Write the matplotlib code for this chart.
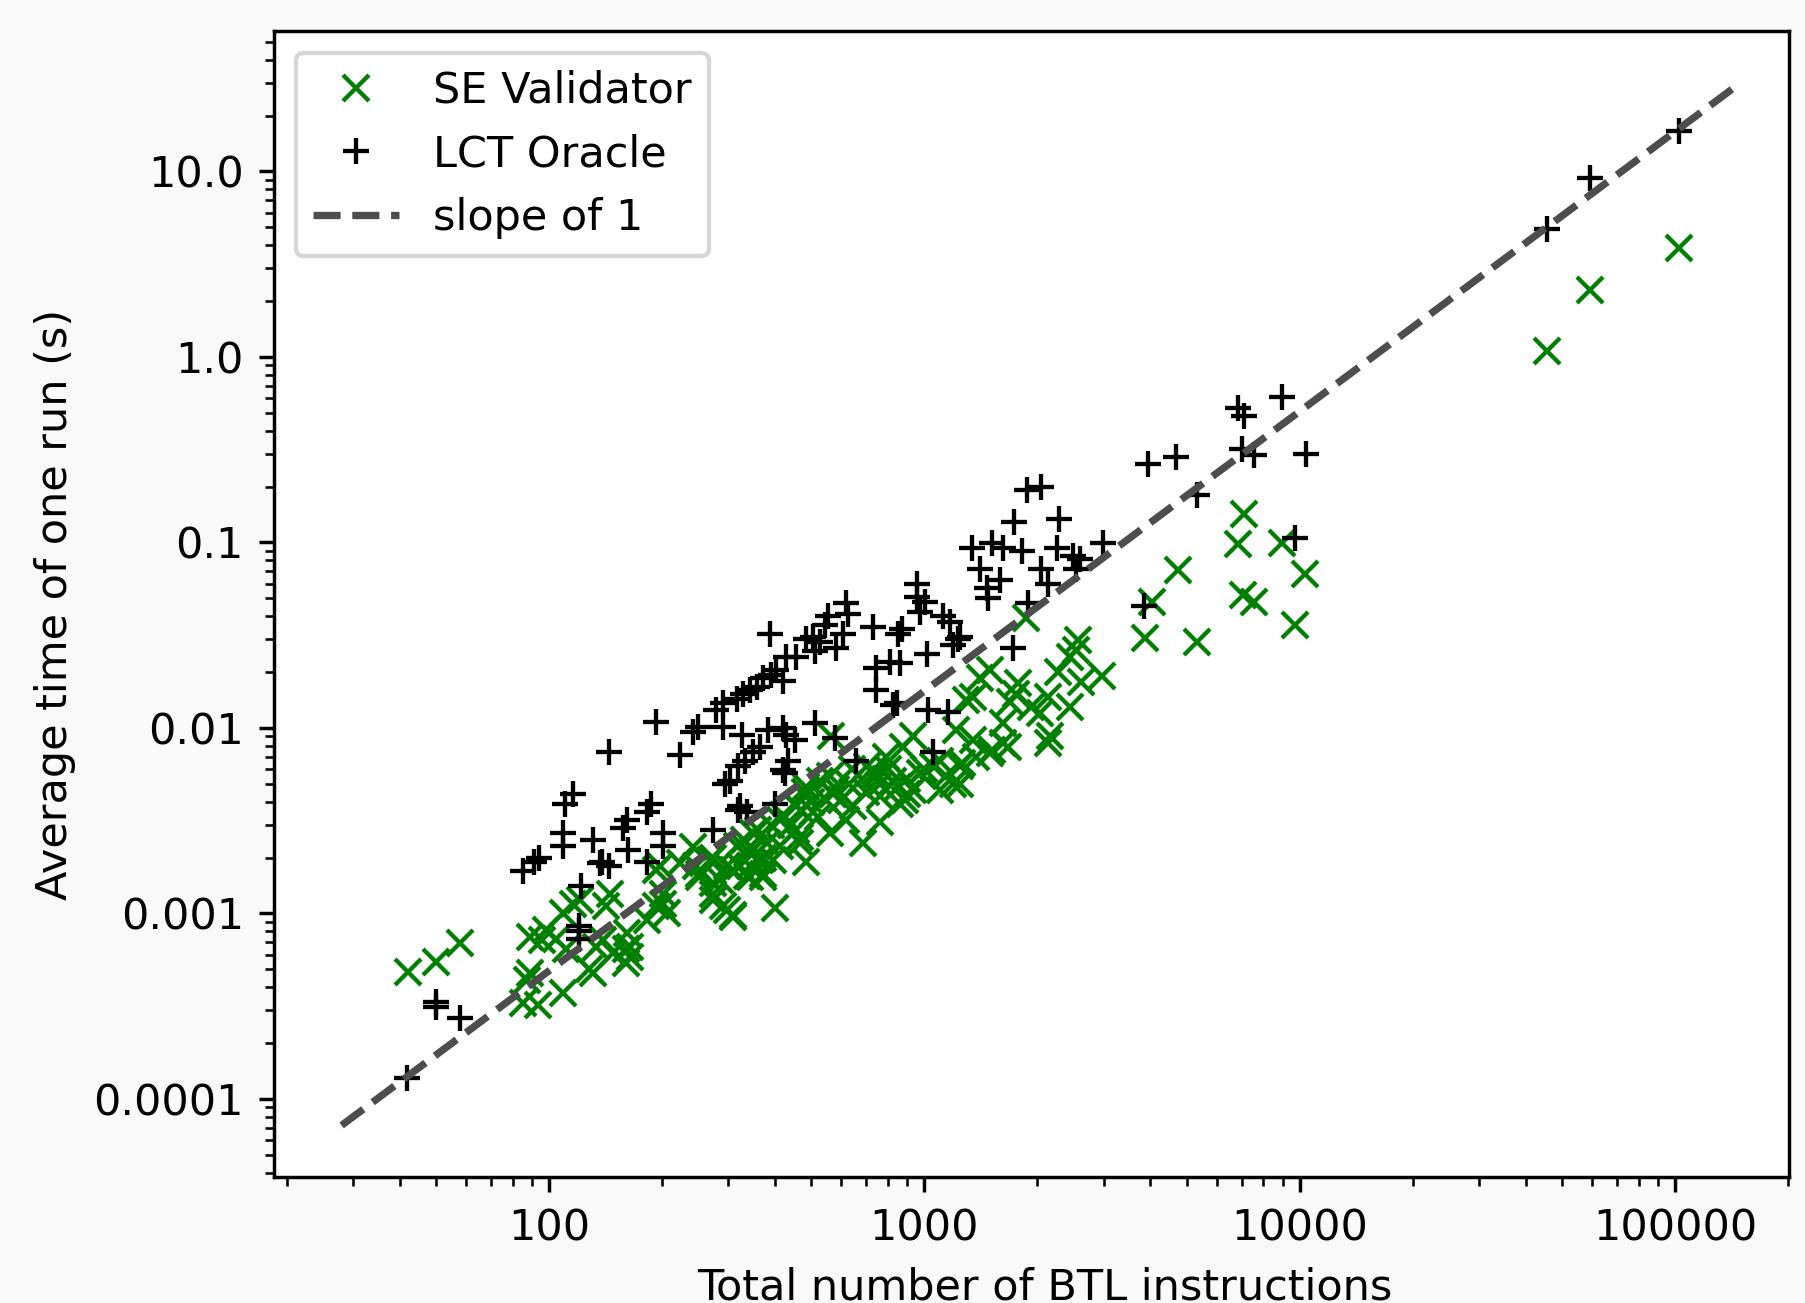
import matplotlib.pyplot as plt
import matplotlib.ticker as ticker

# SE Validator timings
se_x = [102500, 59400, 45700,
        7110, 6825, 8990, 10300, 7060, 7550, 9700, 5330,
        4745, 4030, 3864, 1862, 2566, 2540, 2965, 2440, 2270, 2620, 1493, 1405,
        1777, 1753, 1689, 1928, 2030, 2136, 2440, 1294, 1622, 1671, 1510, 2158, 1260,
        1493, 1622, 2136, 1242, 1242,
        565, 1349, 1217, 933, 878, 792, 701, 745, 825, 896, 972, 1055, 1145, 1193,
        1349, 1376, 761, 860, 933, 505, 456, 412, 372, 560, 620, 646, 526, 485, 571,
        456, 412, 350, 316, 274, 247, 297, 336, 485, 686, 761, 885, 1099,
        399, 297, 309, 274, 251, 285, 309, 343, 372, 242, 223, 197, 201, 193, 206,
        182, 161, 164, 164, 128, 145, 142, 121, 109, 98, 89, 89, 139, 148, 268, 465,
        274, 309, 291, 465, 251, 274, 336, 364, 372, 394, 343, 322,
        42.1, 50.1, 57.8, 87.1, 85.2, 93.5, 109, 95.5, 104.6, 115.8, 111, 131,
        160.6, 160.6, 133.6, 193, 201,
        330, 360, 390, 420, 470, 500, 540, 580, 630, 680, 740, 800, 350, 380,
        440, 520, 600, 700, 760, 850, 900, 1000, 1100, 640, 560, 480]
se_y = [3.86, 2.28, 1.08,
        0.142, 0.0975, 0.0995, 0.0675, 0.052, 0.048, 0.036, 0.029,
        0.071, 0.048, 0.0304, 0.039, 0.0297, 0.0263, 0.019, 0.0242, 0.020, 0.0177, 0.0205, 0.0185,
        0.0174, 0.0153, 0.0138, 0.013, 0.012, 0.0147, 0.013, 0.0141, 0.0106, 0.0079, 0.0076, 0.0090, 0.0065,
        0.0073, 0.0083, 0.0083, 0.0062, 0.0050,
        0.0090, 0.0147, 0.0097, 0.0090, 0.0079, 0.0070, 0.0062, 0.0055, 0.0052, 0.0044, 0.0057, 0.0062, 0.0055, 0.0050,
        0.0086, 0.0070, 0.0043, 0.0039, 0.0046, 0.0035, 0.0028, 0.0023, 0.0020, 0.0027, 0.0032, 0.0038, 0.0052, 0.0048, 0.0044,
        0.0038, 0.0032, 0.0027, 0.0023, 0.0020, 0.0018, 0.0018, 0.0016, 0.0019, 0.0024, 0.0031, 0.0041, 0.0046,
        0.00107, 0.00104, 0.00096, 0.00128, 0.00158, 0.00151, 0.00171, 0.00179, 0.00158, 0.00229, 0.00186, 0.00179, 0.00128, 0.00109, 0.0010,
        0.00092, 0.00078, 0.00066, 0.00058, 0.00050, 0.00128, 0.00109, 0.00118, 0.0010, 0.00081, 0.00075, 0.00048, 0.00072, 0.00061, 0.00194, 0.00259,
        0.00118, 0.00098, 0.00109, 0.0024, 0.00164, 0.00145, 0.0022, 0.00194, 0.00164, 0.00194, 0.00158, 0.00179,
        0.000485, 0.00055, 0.00069, 0.000438, 0.000328, 0.000321, 0.000371, 0.00072, 0.00073, 0.00113, 0.00064, 0.00048,
        0.00064, 0.00054, 0.00066, 0.00171, 0.00113,
        0.0025, 0.0028, 0.0030, 0.0034, 0.0036, 0.0040, 0.0042, 0.0047, 0.0050, 0.0053, 0.0058, 0.0060, 0.0022, 0.0024,
        0.0030, 0.0033, 0.0041, 0.0045, 0.0050, 0.0048, 0.0053, 0.0060, 0.0066, 0.0060, 0.0055, 0.0045]

# LCT Oracle timings
lct_x = [102500, 59400, 45700,
         8990, 6860, 7110, 7025, 7550, 10360, 4690, 3930, 5330, 9700,
         1871, 2050, 1730, 2285, 1335, 1510, 1622, 1815, 2250, 2490, 2982, 2595, 1405,
         2050, 1464, 1588, 1479, 2136, 2540, 1888, 1242, 1722, 3846,
         953, 953, 1002, 972, 1122, 1169, 1230, 1193, 869, 851, 730, 1013, 809, 745,
         860, 745, 843, 1023, 1156, 1055, 620, 627, 553, 543, 607, 505, 526, 485, 583,
         511, 429, 456, 387, 403, 391, 372, 420, 357, 343, 329, 316, 291, 279, 291, 250,
         242, 223, 326, 383, 429, 452, 420, 511, 577, 364, 350, 332, 319, 433, 425, 659,
         303, 294, 319, 336, 400, 274, 825,
         193, 144, 116, 110, 109, 109, 131, 161, 157, 187, 182, 201, 201, 138, 144, 162,
         182, 122, 120, 120, 120, 91, 85, 94, 322, 420,
         41.9, 49.9, 49.9, 57.8, 136.5]
lct_y = [16.5, 9.2, 4.9,
         0.61, 0.53, 0.48, 0.317, 0.295, 0.30, 0.29, 0.265, 0.18, 0.106,
         0.191, 0.2, 0.129, 0.133, 0.093, 0.099, 0.093, 0.090, 0.093, 0.084, 0.099, 0.081, 0.072,
         0.072, 0.0565, 0.0626, 0.050, 0.0596, 0.072, 0.047, 0.031, 0.027, 0.0454,
         0.060, 0.051, 0.048, 0.042, 0.040, 0.037, 0.030, 0.028, 0.034, 0.032, 0.035, 0.025, 0.0227, 0.021,
         0.0223, 0.016, 0.0136, 0.0125, 0.0122, 0.0074, 0.047, 0.041, 0.040, 0.036, 0.032, 0.031, 0.029, 0.030, 0.027,
         0.026, 0.024, 0.024, 0.032, 0.0205, 0.0193, 0.0185, 0.018, 0.0167, 0.016, 0.0153, 0.0144, 0.0136, 0.0125, 0.0101, 0.0101,
         0.0095, 0.0071, 0.0092, 0.0097, 0.0092, 0.0086, 0.010, 0.0106, 0.0088, 0.0079, 0.0074, 0.0066, 0.0062, 0.0066, 0.0057, 0.0066,
         0.0052, 0.0050, 0.0036, 0.0035, 0.0039, 0.0028, 0.0133,
         0.0108, 0.0074, 0.0044, 0.0039, 0.0027, 0.0023, 0.0025, 0.0032, 0.0029, 0.0039, 0.0035, 0.0027, 0.0023, 0.0019, 0.0018, 0.0022,
         0.0019, 0.0014, 0.0008, 0.00073, 0.00085, 0.0019, 0.0017, 0.0020, 0.0038, 0.0059,
         0.000129, 0.000314, 0.000334, 0.000272, 0.00186]

# reference line end points
line_x = [28, 145000]
line_y = [7.2e-5, 28.7]

fig = plt.figure(figsize=(1805 / 310, 1303 / 310), dpi=310, facecolor='#f9f9f9')
ax = fig.add_axes([0.1518, 0.0968, 0.8393, 0.8793])

ax.plot(se_x, se_y, 'gx', linestyle='none', label='SE Validator')
ax.plot(lct_x, lct_y, 'k+', linestyle='none', label='LCT Oracle')
ax.plot(line_x, line_y, '--', color='0.3', lw=1.7, label='slope of 1')

ax.set_xscale('log')
ax.set_yscale('log')
ax.set_xlim(18.5, 201000)
ax.set_ylim(3.8e-5, 57)

ax.xaxis.set_major_formatter(ticker.FormatStrFormatter('%d'))
ax.yaxis.set_major_formatter(ticker.FuncFormatter(lambda v, p: str(float(round(v, 6)))))
ax.xaxis.set_minor_formatter(ticker.NullFormatter())
ax.yaxis.set_minor_formatter(ticker.NullFormatter())

ax.set_xlabel('Total number of BTL instructions', x=0.509)
ax.set_ylabel('Average time of one run (s)')
ax.legend(loc='upper left')

fig.savefig('out.png', dpi=310, facecolor=fig.get_facecolor())
